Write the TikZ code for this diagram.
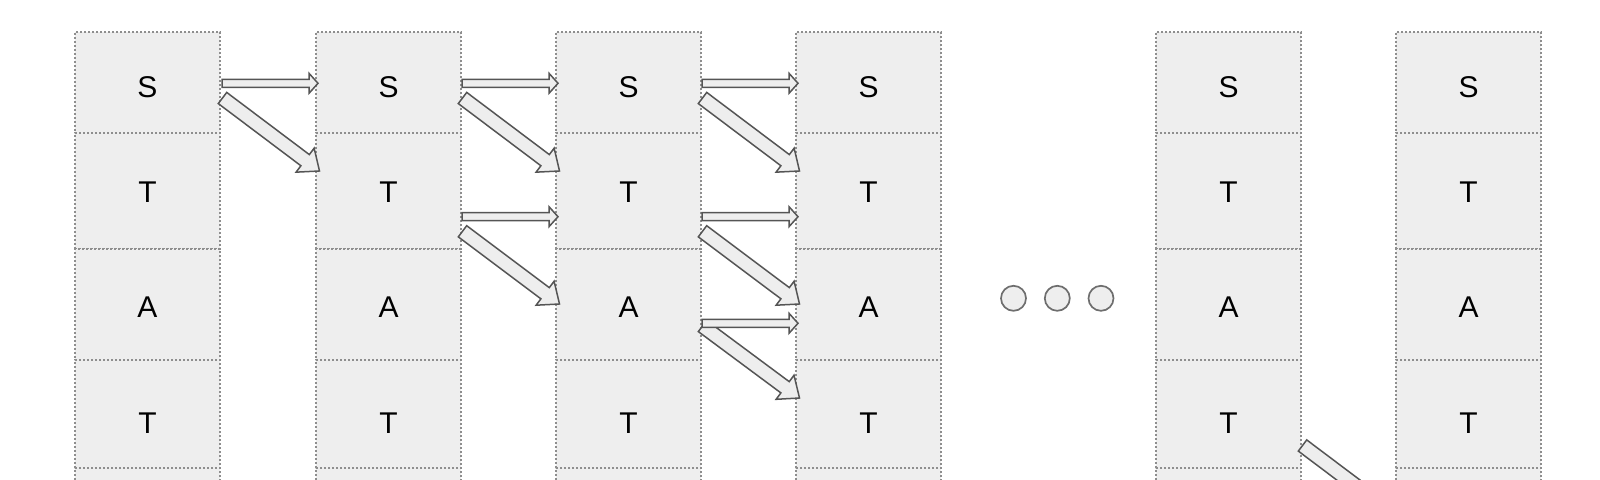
\documentclass[tikz,border=0pt]{standalone}
\usepackage{fontspec}
\setmainfont{Liberation Sans}
\usetikzlibrary{calc}
\definecolor{cellfill}{HTML}{EEEEEE}
\definecolor{celledge}{HTML}{8E8E8E}
\definecolor{arredge}{HTML}{555555}
\tikzset{
  cell/.style={draw=celledge, fill=cellfill, line width=0.6pt, dash pattern=on 1pt off 1pt, inner sep=0pt, minimum width=72.5pt},
  letter/.style={inner sep=0pt, font=\fontsize{15}{18}\selectfont, text=black},
  barrow/.style={draw=arredge, fill=cellfill, line width=0.75pt, line join=miter},
  dotnode/.style={circle, draw=arredge!85, fill=cellfill, line width=0.85pt, minimum size=12.5pt, inner sep=0pt}
}
\newcommand\blockarr[5]{%
  \coordinate (bh) at ($(#2)!#5!(#1)$);
  \draw[barrow] ($(#1)!#3!90:(#2)$) -- ($(bh)!#3!90:(#2)$) -- ($(bh)!#4!90:(#2)$) -- (#2)
     -- ($(bh)!#4!-90:(#2)$) -- ($(bh)!#3!-90:(#2)$) -- ($(#1)!#3!-90:(#2)$) -- cycle;}
\newcommand\harr[2]{\blockarr{#1}{#2}{2pt}{5pt}{4.5pt}}
\newcommand\darr[2]{\blockarr{#1}{#2}{3.5pt}{7.5pt}{9pt}}
\begin{document}
\begin{tikzpicture}[x=0.5pt,y=-0.5pt]
\useasboundingbox (0,0) rectangle (1600,480);
\clip (0,0) rectangle (1600,480);
% cells
\foreach \c/\xl in {1/75,2/316,3/556,4/796,5/1156,6/1396} {
  \foreach \r/\yt/\yb in {1/32/133,2/133/249,3/249/360,4/360/468,5/468/580} {
    \node[cell, minimum height={(\yb-\yt)*0.5pt}] (c\c\r) at ({\xl+72.5},{(\yt+\yb)/2}) {};
  }
  \node[letter] (s\c) at ({\xl+72.5},87) {S};
  \node[letter] (t\c) at ({\xl+72.5},192.5) {T};
  \node[letter] (a\c) at ({\xl+72.5},306.7) {A};
  \node[letter] (u\c) at ({\xl+72.5},423) {T};
}
% ellipsis
\node[dotnode] (e1) at (1013.5,298.3) {};
\node[dotnode] (e2) at (1057.3,298.3) {};
\node[dotnode] (e3) at (1101,298.3) {};
% arrow end points
\coordinate (h1Sa) at (222,83.3);   \coordinate (h1Sb) at (318,83.3);
\coordinate (d1Sa) at (222.5,98);   \coordinate (d1Sb) at (319.5,171);
\coordinate (h2Sa) at (462,83.3);   \coordinate (h2Sb) at (558,83.3);
\coordinate (d2Sa) at (462.5,98);   \coordinate (d2Sb) at (559.5,171);
\coordinate (h2Ta) at (462,216.7);  \coordinate (h2Tb) at (558,216.7);
\coordinate (d2Ta) at (462.5,231.3);\coordinate (d2Tb) at (559.5,304);
\coordinate (h3Sa) at (702,83.3);   \coordinate (h3Sb) at (798,83.3);
\coordinate (d3Sa) at (702.5,98);   \coordinate (d3Sb) at (799.5,171);
\coordinate (h3Ta) at (702,216.7);  \coordinate (h3Tb) at (798,216.7);
\coordinate (d3Ta) at (702.5,231.3);\coordinate (d3Tb) at (799.5,304);
\coordinate (h3Aa) at (702,323.3);  \coordinate (h3Ab) at (798,323.3);
\coordinate (d3Aa) at (702.5,326);  \coordinate (d3Ab) at (799.5,398);
\coordinate (d5Ua) at (1302.5,445.5);\coordinate (d5Ub) at (1399.5,518.5);
% arrows
\darr{d1Sa}{d1Sb} \harr{h1Sa}{h1Sb}
\darr{d2Sa}{d2Sb} \harr{h2Sa}{h2Sb}
\darr{d2Ta}{d2Tb} \harr{h2Ta}{h2Tb}
\darr{d3Sa}{d3Sb} \harr{h3Sa}{h3Sb}
\darr{d3Ta}{d3Tb} \harr{h3Ta}{h3Tb}
\darr{d3Aa}{d3Ab} \harr{h3Aa}{h3Ab}
\darr{d5Ua}{d5Ub}
\end{tikzpicture}
\end{document}
